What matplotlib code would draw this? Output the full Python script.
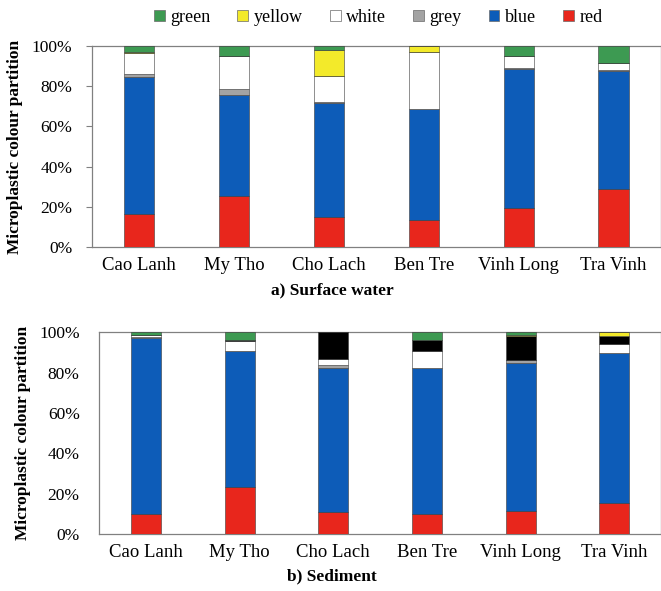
import numpy as np
import matplotlib
matplotlib.use('Agg')
import matplotlib.pyplot as plt
from matplotlib.patches import Patch
from matplotlib.ticker import PercentFormatter

plt.rcParams['font.family'] = ['Liberation Serif', 'DejaVu Serif']

# --- DATA (percent of particles per colour) ---
sites = ['Cao Lanh', 'My Tho', 'Cho Lach', 'Ben Tre', 'Vinh Long', 'Tra Vinh']

# a) surface water
sw_red    = [16.2, 25.3, 14.8, 13.7, 19.3, 28.7]
sw_blue   = [68.5, 50.4, 56.7, 55.0, 69.2, 59.1]
sw_grey   = [1.3, 3.0, 0.5, 0.0, 0.8, 0.5]
sw_white  = [10.8, 16.3, 13.2, 28.5, 6.0, 3.4]
sw_black  = [0.0, 0.0, 0.0, 0.0, 0.0, 0.0]
sw_yellow = [0.2, 0.0, 12.8, 2.8, 0.0, 0.0]
sw_green  = [3.0, 5.0, 2.0, 0.0, 4.7, 8.3]

# b) sediment
sd_red    = [9.9, 23.6, 10.9, 10.2, 11.7, 15.7]
sd_blue   = [87.1, 67.3, 71.3, 72.0, 73.0, 73.9]
sd_grey   = [0.5, 0.0, 1.6, 0.0, 1.3, 0.0]
sd_white  = [1.2, 4.5, 2.8, 8.3, 0.0, 4.5]
sd_black  = [0.0, 0.6, 13.4, 5.7, 12.2, 4.1]
sd_yellow = [0.0, 0.0, 0.0, 0.0, 0.5, 1.8]
sd_green  = [1.3, 4.0, 0.0, 3.8, 1.3, 0.0]

colors = {
    'red': '#e8261c',
    'blue': '#0d5cb8',
    'grey': '#a3a3a3',
    'white': '#ffffff',
    'black': '#000000',
    'yellow': '#f3ea2a',
    'green': '#3d9a52',
}


def stack(ax, series, ticks=True):
    x = np.arange(len(sites))
    bottom = np.zeros(len(sites))
    for name, vals in series:
        vals = np.array(vals)
        ax.bar(x, vals, bottom=bottom, width=0.32, color=colors[name],
               edgecolor='#3a3a3a', linewidth=0.4, zorder=3)
        bottom += vals
    ax.set_xlim(-0.5, len(sites) - 0.5)
    ax.set_ylim(0, 100)
    ax.set_yticks([0, 20, 40, 60, 80, 100])
    ax.yaxis.set_major_formatter(PercentFormatter(decimals=0))
    ax.set_xticks(x)
    ax.set_xticklabels(sites, fontsize=13.5)
    ax.tick_params(axis='x', length=0, pad=7)
    ax.tick_params(axis='y', labelsize=12.5, length=4 if ticks else 0,
                   color='#808080', pad=10 if ticks else 14)
    for sp in ax.spines.values():
        sp.set_color('#808080')
        sp.set_linewidth(0.9)
    ax.set_ylabel('Microplastic colour partition', fontsize=12.5,
                  fontweight='bold', labelpad=6)


fig = plt.figure(figsize=(6.61, 5.91), dpi=100)

ax1 = fig.add_axes([0.139, 0.582, 0.861, 0.340])
stack(ax1, [('red', sw_red), ('blue', sw_blue), ('grey', sw_grey),
            ('white', sw_white), ('black', sw_black),
            ('yellow', sw_yellow), ('green', sw_green)])

ax2 = fig.add_axes([0.150, 0.096, 0.850, 0.342])
stack(ax2, [('red', sd_red), ('blue', sd_blue), ('grey', sd_grey),
            ('white', sd_white), ('black', sd_black),
            ('yellow', sd_yellow), ('green', sd_green)], ticks=False)

fig.text(0.502, 0.508, 'a) Surface water', ha='center', va='center',
         fontsize=12.5, fontweight='bold')
fig.text(0.502, 0.025, 'b) Sediment', ha='center', va='center',
         fontsize=12.5, fontweight='bold')

legend_names = ['green', 'yellow', 'white', 'grey', 'blue', 'red']
handles = [Patch(facecolor=colors[n], edgecolor='#6a6a6a', linewidth=0.5)
           for n in legend_names]
fig.legend(handles, legend_names, loc='center', bbox_to_anchor=(0.572, 0.971),
           ncol=6, frameon=False, fontsize=13, handlelength=0.6,
           handleheight=0.6, handletextpad=0.3, columnspacing=1.5)

fig.savefig('out.png', dpi=100)
